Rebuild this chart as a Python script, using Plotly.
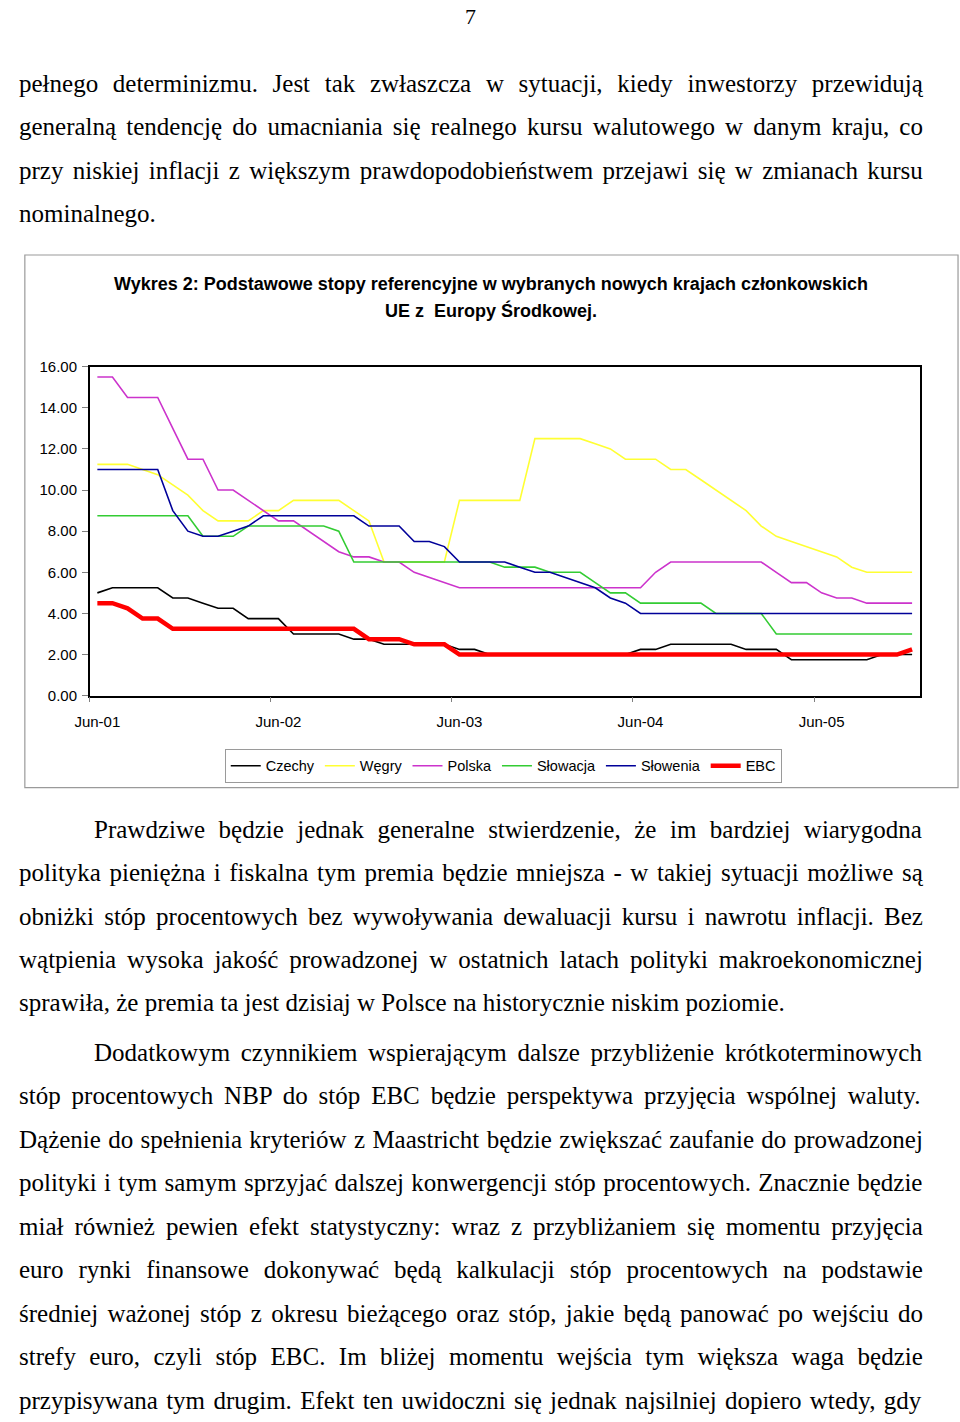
import plotly.graph_objects as go

W, H = 960, 1422

# ---- data (monthly, Jun-01 .. Dec-05) ----
months_n = 55
tick_labels = ["Jun-01", "Jun-02", "Jun-03", "Jun-04", "Jun-05"]
tick_pos = [0, 12, 24, 36, 48]

czechy = [5.0, 5.25, 5.25, 5.25, 5.25, 4.75, 4.75, 4.5, 4.25, 4.25, 3.75, 3.75,
          3.75, 3.0, 3.0, 3.0, 3.0, 2.75, 2.75, 2.5, 2.5, 2.5, 2.5, 2.5,
          2.25, 2.25, 2.0, 2.0, 2.0, 2.0, 2.0, 2.0, 2.0, 2.0, 2.0, 2.0,
          2.25, 2.25, 2.5, 2.5, 2.5, 2.5, 2.5, 2.25, 2.25, 2.25, 1.75, 1.75,
          1.75, 1.75, 1.75, 1.75, 2.0, 2.0, 2.0]
wegry = [11.25, 11.25, 11.25, 11.0, 10.75, 10.25, 9.75, 9.0, 8.5, 8.5, 8.5, 9.0,
         9.0, 9.5, 9.5, 9.5, 9.5, 9.0, 8.5, 6.5, 6.5, 6.5, 6.5, 6.5,
         9.5, 9.5, 9.5, 9.5, 9.5, 12.5, 12.5, 12.5, 12.5, 12.25, 12.0, 11.5,
         11.5, 11.5, 11.0, 11.0, 10.5, 10.0, 9.5, 9.0, 8.25, 7.75, 7.5, 7.25,
         7.0, 6.75, 6.25, 6.0, 6.0, 6.0, 6.0]
polska = [15.5, 15.5, 14.5, 14.5, 14.5, 13.0, 11.5, 11.5, 10.0, 10.0, 9.5, 9.0,
          8.5, 8.5, 8.0, 7.5, 7.0, 6.75, 6.75, 6.5, 6.5, 6.0, 5.75, 5.5,
          5.25, 5.25, 5.25, 5.25, 5.25, 5.25, 5.25, 5.25, 5.25, 5.25, 5.25, 5.25,
          5.25, 6.0, 6.5, 6.5, 6.5, 6.5, 6.5, 6.5, 6.5, 6.0, 5.5, 5.5,
          5.0, 4.75, 4.75, 4.5, 4.5, 4.5, 4.5]
slowacja = [8.75, 8.75, 8.75, 8.75, 8.75, 8.75, 8.75, 7.75, 7.75, 7.75, 8.25, 8.25,
            8.25, 8.25, 8.25, 8.25, 8.0, 6.5, 6.5, 6.5, 6.5, 6.5, 6.5, 6.5,
            6.5, 6.5, 6.5, 6.25, 6.25, 6.25, 6.0, 6.0, 6.0, 5.5, 5.0, 5.0,
            4.5, 4.5, 4.5, 4.5, 4.5, 4.0, 4.0, 4.0, 4.0, 3.0, 3.0, 3.0,
            3.0, 3.0, 3.0, 3.0, 3.0, 3.0, 3.0]
slowenia = [11.0, 11.0, 11.0, 11.0, 11.0, 9.0, 8.0, 7.75, 7.75, 8.0, 8.25, 8.75,
            8.75, 8.75, 8.75, 8.75, 8.75, 8.75, 8.25, 8.25, 8.25, 7.5, 7.5, 7.25,
            6.5, 6.5, 6.5, 6.5, 6.25, 6.0, 6.0, 5.75, 5.5, 5.25, 4.75, 4.5,
            4.0, 4.0, 4.0, 4.0, 4.0, 4.0, 4.0, 4.0, 4.0, 4.0, 4.0, 4.0,
            4.0, 4.0, 4.0, 4.0, 4.0, 4.0, 4.0]
ebc = [4.5, 4.5, 4.25, 3.75, 3.75, 3.25, 3.25, 3.25, 3.25, 3.25, 3.25, 3.25,
       3.25, 3.25, 3.25, 3.25, 3.25, 3.25, 2.75, 2.75, 2.75, 2.5, 2.5, 2.5,
       2.0, 2.0, 2.0, 2.0, 2.0, 2.0, 2.0, 2.0, 2.0, 2.0, 2.0, 2.0,
       2.0, 2.0, 2.0, 2.0, 2.0, 2.0, 2.0, 2.0, 2.0, 2.0, 2.0, 2.0,
       2.0, 2.0, 2.0, 2.0, 2.0, 2.0, 2.25]

series_names = ["Czechy", "Węgry", "Polska", "Słowacja", "Słowenia", "EBC"]
series_vals = [czechy, wegry, polska, slowacja, slowenia, ebc]
series_colors = ["#000000", "#FFFF33", "#CC33CC", "#33CC33", "#000099", "#FF0000"]
series_widths = [1.6, 1.6, 1.6, 1.6, 1.6, 4.5]

# each paragraph: list of (text, justify)
para_top = [
    ("pełnego determinizmu. Jest tak zwłaszcza w sytuacji, kiedy inwestorzy przewidują", True),
    ("generalną tendencję do umacniania się realnego kursu walutowego w danym kraju, co", True),
    ("przy niskiej inflacji z większym prawdopodobieństwem przejawi się w zmianach kursu", True),
    ("nominalnego.", False),
]
para2 = [
    ("Prawdziwe będzie jednak generalne stwierdzenie, że im bardziej wiarygodna", True),
    ("polityka pieniężna i fiskalna tym premia będzie mniejsza - w takiej sytuacji możliwe są", True),
    ("obniżki stóp procentowych bez wywoływania dewaluacji kursu i nawrotu inflacji. Bez", True),
    ("wątpienia wysoka jakość prowadzonej w ostatnich latach polityki makroekonomicznej", True),
    ("sprawiła, że premia ta jest dzisiaj w Polsce na historycznie niskim poziomie.", False),
]
para3 = [
    ("Dodatkowym czynnikiem wspierającym dalsze przybliżenie krótkoterminowych", True),
    ("stóp procentowych NBP do stóp EBC będzie perspektywa przyjęcia wspólnej waluty.", True),
    ("Dążenie do spełnienia kryteriów z Maastricht będzie zwiększać zaufanie do prowadzonej", True),
    ("polityki i tym samym sprzyjać dalszej konwergencji stóp procentowych. Znacznie będzie", True),
    ("miał również pewien efekt statystyczny: wraz z przybliżaniem się momentu przyjęcia", True),
    ("euro rynki finansowe dokonywać będą kalkulacji stóp procentowych na podstawie", True),
    ("średniej ważonej stóp z okresu bieżącego oraz stóp, jakie będą panować po wejściu do", True),
    ("strefy euro, czyli stóp EBC. Im bliżej momentu wejścia tym większa waga będzie", True),
    ("przypisywana tym drugim. Efekt ten uwidoczni się jednak najsilniej dopiero wtedy, gdy", True),
]
chart_title = ["Wykres 2: Podstawowe stopy referencyjne w wybranych nowych krajach członkowskich",
               "UE z  Europy Środkowej."]

# Times New Roman advance widths (per 1000 em), used to estimate word spacing for justification
TNR = {' ': 250, 'a': 444, 'b': 500, 'c': 444, 'd': 500, 'e': 444, 'f': 333, 'g': 500, 'h': 500,
       'i': 278, 'j': 278, 'k': 500, 'l': 278, 'm': 778, 'n': 500, 'o': 500, 'p': 500, 'q': 500,
       'r': 333, 's': 389, 't': 278, 'u': 500, 'v': 500, 'w': 722, 'x': 500, 'y': 500, 'z': 444,
       'A': 722, 'B': 667, 'C': 667, 'D': 722, 'E': 611, 'F': 556, 'G': 722, 'H': 722, 'I': 333,
       'J': 389, 'K': 722, 'L': 611, 'M': 889, 'N': 722, 'O': 722, 'P': 556, 'Q': 722, 'R': 667,
       'S': 556, 'T': 611, 'U': 722, 'V': 722, 'W': 944, 'X': 722, 'Y': 722, 'Z': 611,
       ',': 250, '.': 250, ':': 278, '-': 333, 'ą': 444, 'ę': 444, 'ł': 278, 'ń': 500, 'ó': 500,
       'ś': 389, 'ź': 444, 'ż': 444, 'ć': 444, 'Ś': 556, 'Ż': 611}

FS = 25
LEFT, RIGHT = 4, 908


def px(x):
    return x / W


def py(y):
    return 1 - y / H


fig = go.Figure()
x_idx = list(range(months_n))
for name, vals, col, lw in zip(series_names, series_vals, series_colors, series_widths):
    fig.add_trace(go.Scatter(x=x_idx, y=vals, mode="lines", name=name,
                             line=dict(color=col, width=lw)))

SERIF = "Liberation Serif, Times New Roman, serif"
SANS = "Liberation Sans, Arial, sans-serif"

annots = []
annots.append(dict(x=px(463), y=py(8), text="7", showarrow=False, xanchor="center", yanchor="middle",
                   font=dict(family=SERIF, size=22, color="black"), xref="paper", yref="paper"))


def add_lines(lines, y0, step, first_indent):
    for i, (t, just) in enumerate(lines):
        x = first_indent if i == 0 else LEFT
        txt = t
        if just:
            nat = sum(TNR.get(c, 500) for c in t) * FS / 1000.0
            nsp = t.count(" ")
            extra = (RIGHT - x - nat) / max(nsp, 1)
            txt = '<span style="word-spacing:%.2fpx">%s</span>' % (extra, t)
        annots.append(dict(x=px(x - 2), y=py(y0 + i * step), text=txt, showarrow=False,
                           xanchor="left", yanchor="middle", xref="paper", yref="paper",
                           font=dict(family=SERIF, size=FS, color="black")))


add_lines(para_top, 75, 44, LEFT)
add_lines(para2, 830, 44, 80)
add_lines(para3, 1056, 44, 80)

for i, t in enumerate(chart_title):
    annots.append(dict(x=px(484), y=py(278 + i * 27), text="<b>" + t + "</b>", showarrow=False,
                       xanchor="center", yanchor="middle", xref="paper", yref="paper",
                       font=dict(family=SANS, size=18, color="black")))

fig.update_layout(
    width=W, height=H, margin=dict(l=0, r=0, t=0, b=0),
    paper_bgcolor="white", plot_bgcolor="white",
    annotations=annots,
    shapes=[dict(type="rect", xref="paper", yref="paper", x0=px(10), x1=px(958), y0=py(249), y1=py(788),
                 line=dict(color="#9a9a9a", width=1.2), fillcolor="rgba(0,0,0,0)", layer="below")],
    showlegend=True,
    legend=dict(orientation="h", x=px(496), xanchor="center", y=py(766), yanchor="middle",
                bordercolor="#9a9a9a", borderwidth=1, bgcolor="white",
                font=dict(family=SANS, size=14.5, color="black"), itemwidth=30,
                tracegroupgap=0, itemclick=False),
    xaxis=dict(domain=[px(76), px(919)], range=[-0.5, months_n - 0.5],
               tickmode="array", tickvals=tick_pos, ticktext=tick_labels,
               ticks="outside", ticklen=12, tickcolor="rgba(0,0,0,0)",
               showgrid=False, zeroline=False, showline=True, linecolor="black", linewidth=1.5,
               mirror=True, tickfont=dict(family=SANS, size=15, color="black"),
               minor=dict(tickmode="array", tickvals=[-0.5, 11.5, 23.5, 35.5, 47.5],
                          ticks="outside", ticklen=5, tickcolor="#808080", showgrid=False)),
    yaxis=dict(domain=[py(695), py(362)], range=[0, 16], tickmode="linear", tick0=0, dtick=2,
               tickformat=".2f", ticks="outside", ticklen=6, tickcolor="#808080",
               showgrid=False, zeroline=False, showline=True, linecolor="black", linewidth=1.5,
               mirror=True, tickfont=dict(family=SANS, size=15, color="black"), ticklabelstandoff=2),
)

post = "document.body.style.margin='0';"
fig.write_html("out.html", config={"displayModeBar": False}, post_script=post)
